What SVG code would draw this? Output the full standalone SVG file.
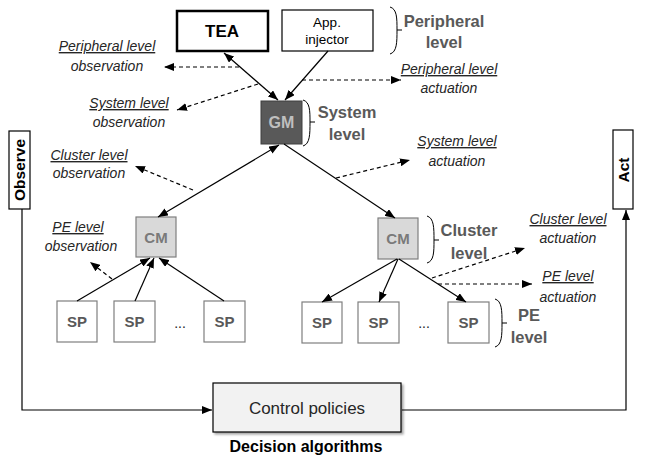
<svg xmlns="http://www.w3.org/2000/svg" width="658" height="458" viewBox="0 0 658 458">
<defs>
<marker id="ah" markerUnits="userSpaceOnUse" markerWidth="10" markerHeight="8" refX="10" refY="4" orient="auto-start-reverse"><path d="M0,0 L10,4 L0,8 z" fill="#000"/></marker>
<filter id="sh" x="-10%" y="-10%" width="130%" height="140%"><feDropShadow dx="2" dy="2" stdDeviation="1.2" flood-color="#000" flood-opacity="0.35"/></filter>
</defs>
<style>
.ln{stroke:#000;stroke-width:1.2;fill:none}
.ds{stroke:#000;stroke-width:1.2;fill:none;stroke-dasharray:4,3}
.lab{font-family:"Liberation Sans",Arial,sans-serif;font-style:italic;font-size:14px;fill:#262626;text-anchor:middle}
.u{text-decoration:underline}
.lvl{font-family:"Liberation Sans",Arial,sans-serif;font-weight:bold;font-size:16.5px;fill:#595959;text-anchor:middle}
.br{stroke:#000;stroke-width:1;fill:none}
.sp rect{fill:#fff;stroke:#7f7f7f;stroke-width:1.2}
.sp text{font-family:"Liberation Sans",Arial,sans-serif;font-weight:bold;font-size:15px;fill:#595959;text-anchor:middle}
.cm rect{fill:#d9d9d9;stroke:#7f7f7f;stroke-width:1.2}
.cm text{font-family:"Liberation Sans",Arial,sans-serif;font-weight:bold;font-size:15px;fill:#7a7a7a;text-anchor:middle}
.bx{font-family:"Liberation Sans",Arial,sans-serif;text-anchor:middle;fill:#000}
</style>
<rect width="658" height="458" fill="#fff"/>

<g id="tea"><rect x="177" y="11" width="91" height="40" fill="#fff" stroke="#000" stroke-width="2.5"/><text class="bx" x="222" y="37" font-weight="bold" font-size="17">TEA</text></g>
<g id="app"><rect x="282" y="10" width="91" height="41" fill="#fff" stroke="#000" stroke-width="1.2"/><text class="bx" x="327" y="27" font-size="13.5">App.</text><text class="bx" x="327" y="44" font-size="13.5">injector</text></g>
<g id="gm"><rect x="261" y="101" width="41" height="43" fill="#595959" stroke="#3f3f3f" stroke-width="1"/><text class="bx" x="281.5" y="128" font-weight="bold" font-size="16" style="fill:#bfbfbf">GM</text></g>
<g id="cm1" class="cm"><rect x="136" y="217" width="40" height="40"/><text x="156" y="243">CM</text></g>
<g id="cm2" class="cm"><rect x="378" y="218" width="40" height="41"/><text x="398" y="244">CM</text></g>
<g id="sp1" class="sp"><rect x="57" y="301" width="40" height="41"/><text x="77" y="327">SP</text></g>
<g id="sp2" class="sp"><rect x="114" y="301" width="41" height="41"/><text x="134.5" y="327">SP</text></g>
<g id="sp3" class="sp"><rect x="204" y="301" width="41" height="41"/><text x="224.5" y="327">SP</text></g>
<g id="sp4" class="sp"><rect x="302" y="302" width="40" height="41"/><text x="322" y="328">SP</text></g>
<g id="sp5" class="sp"><rect x="358" y="302" width="41" height="41"/><text x="378.5" y="328">SP</text></g>
<g id="sp6" class="sp"><rect x="448" y="302" width="41" height="41"/><text x="468.5" y="328">SP</text></g>
<g id="dots"><text class="bx" x="180" y="328" font-size="14" style="fill:#262626">...</text><text class="bx" x="424" y="328" font-size="14" style="fill:#262626">...</text></g>
<g id="observe"><rect x="9" y="131" width="21" height="78" fill="#fff" stroke="#000" stroke-width="1.2"/><text class="bx" transform="translate(25,170) rotate(-90)" x="0" y="0" font-weight="bold" font-size="15.5">Observe</text></g>
<g id="act"><rect x="613" y="130" width="20" height="79" fill="#fff" stroke="#000" stroke-width="1.2"/><text class="bx" transform="translate(628.5,170) rotate(-90)" x="0" y="0" font-weight="bold" font-size="15.5">Act</text></g>
<g id="control"><rect x="213" y="383" width="188" height="49" fill="#f2f2f2" stroke="#000" stroke-width="1.2" filter="url(#sh)"/><text class="bx" x="307" y="414" font-size="17" style="fill:#262626">Control policies</text><text class="bx" x="306" y="452" font-weight="bold" font-size="16">Decision algorithms</text></g>

<g id="levels">
<path class="br" d="M390,7 C397,9 397,18 397,30 M397,30 C397,42 397,52 390,54 M397,30 H402"/>
<text class="lvl" x="444" y="27">Peripheral</text><text class="lvl" x="444" y="48">level</text>
<path class="br" d="M303,100 C310,102 310,111 310,122 M310,122 C310,134 310,144 303,146 M310,122 H315"/>
<text class="lvl" x="347" y="118">System</text><text class="lvl" x="347" y="140">level</text>
<path class="br" d="M427,216 C434,218 434,228 434,240 M434,240 C434,252 434,261 427,263 M434,240 H439"/>
<text class="lvl" x="469" y="236">Cluster</text><text class="lvl" x="469" y="259">level</text>
<path class="br" d="M495,299 C502,301 502,311 502,323 M502,323 C502,335 502,345 495,347 M502,323 H507"/>
<text class="lvl" x="529" y="321">PE</text><text class="lvl" x="529" y="343">level</text>
</g>

<g id="labels">
<text class="lab u" x="107" y="51">Peripheral level</text><text class="lab" x="107" y="71">observation</text>
<text class="lab u" x="129" y="108">System level</text><text class="lab" x="129" y="127">observation</text>
<text class="lab u" x="449" y="74">Peripheral level</text><text class="lab" x="449" y="93">actuation</text>
<text class="lab u" x="457" y="146">System level</text><text class="lab" x="457" y="166">actuation</text>
<text class="lab u" x="89" y="160">Cluster level</text><text class="lab" x="89" y="178">observation</text>
<text class="lab u" x="78" y="232">PE level</text><text class="lab" x="81" y="251">observation</text>
<text class="lab u" x="568" y="224">Cluster level</text><text class="lab" x="568" y="243">actuation</text>
<text class="lab u" x="568" y="281">PE level</text><text class="lab" x="568" y="302">actuation</text>
</g>

<g id="connectors">
<line class="ln" x1="224" y1="53" x2="278" y2="100" marker-start="url(#ah)" marker-end="url(#ah)"/>
<line class="ln" x1="328" y1="51" x2="285" y2="100" marker-end="url(#ah)"/>
<line class="ln" x1="279" y1="145" x2="158" y2="217" marker-start="url(#ah)" marker-end="url(#ah)"/>
<line class="ln" x1="284" y1="144" x2="395" y2="218" marker-end="url(#ah)"/>
<line class="ln" x1="77" y1="301" x2="150" y2="258" marker-end="url(#ah)"/>
<line class="ln" x1="135" y1="301" x2="154" y2="258" marker-end="url(#ah)"/>
<line class="ln" x1="224" y1="301" x2="159" y2="258" marker-end="url(#ah)"/>
<line class="ln" x1="397" y1="259" x2="322" y2="302" marker-end="url(#ah)"/>
<line class="ln" x1="398" y1="259" x2="379" y2="302" marker-end="url(#ah)"/>
<line class="ln" x1="399" y1="259" x2="466" y2="302" marker-end="url(#ah)"/>
<line class="ds" x1="239" y1="67" x2="164" y2="67" marker-end="url(#ah)"/>
<line class="ds" x1="302" y1="80" x2="401" y2="80" marker-end="url(#ah)"/>
<line class="ds" x1="258" y1="84" x2="177" y2="110" marker-end="url(#ah)"/>
<line class="ds" x1="193" y1="190" x2="135" y2="166" marker-end="url(#ah)"/>
<line class="ds" x1="336" y1="178" x2="410" y2="160" marker-end="url(#ah)"/>
<line class="ds" x1="112" y1="279" x2="90" y2="262" marker-end="url(#ah)"/>
<line class="ds" x1="432" y1="278" x2="525" y2="248" marker-end="url(#ah)"/>
<line class="ds" x1="438" y1="284" x2="532" y2="284" marker-end="url(#ah)"/>
<path class="ln" d="M22,209 V410 H212" marker-end="url(#ah)"/>
<path class="ln" d="M402,410 H626 V210" marker-end="url(#ah)"/>
</g>
</svg>
